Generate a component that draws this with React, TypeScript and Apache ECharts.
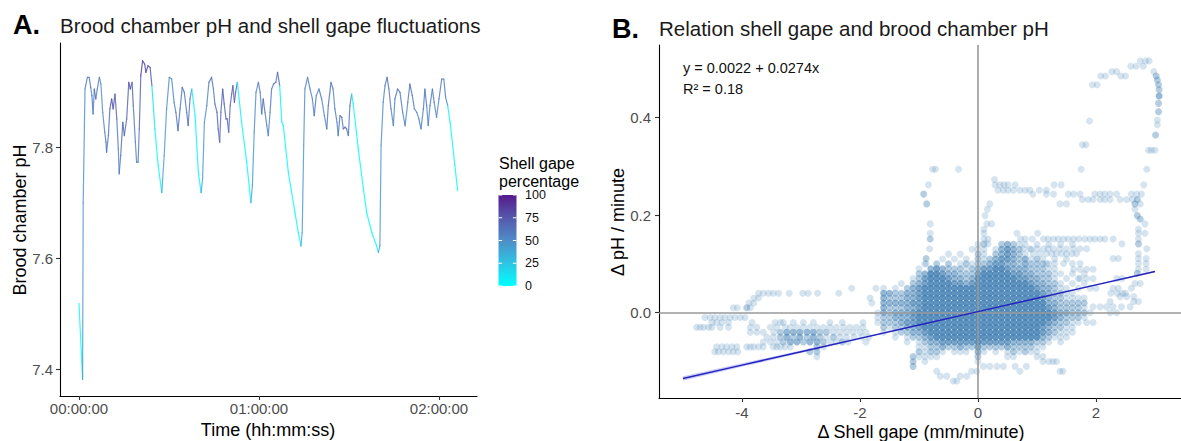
import React, { useEffect, useRef } from 'react';
import * as echarts from 'echarts';

const FONT = '"Liberation Sans", Arial, Helvetica, sans-serif';

// ---------- Panel A: brood chamber pH over time, coloured by shell gape % ----------
const timeMin = [
  0, 1.2, 1.4, 2.0, 2.8, 3.4, 3.9, 4.3, 4.7, 5.1,
  5.6, 6.1, 6.8, 7.3, 7.9, 8.6, 9.0, 9.2, 9.8, 10.3,
  10.9, 11.4, 12.0, 12.6, 13.1, 13.4, 13.9, 14.6, 15.1, 15.9,
  16.6, 17.1, 17.7, 18.1, 18.8, 19.2, 19.7, 20.1, 20.6, 21.2,
  21.9, 22.3, 23.0, 23.7, 24.3, 25.3, 26.4, 27.6, 28.4, 29.2,
  30.1, 30.9, 31.7, 32.3, 33.0, 33.7, 34.4, 35.1, 35.9, 36.4,
  37.0, 37.6, 38.7, 39.8, 40.7, 41.2, 41.8, 42.6, 43.3, 44.2,
  44.8, 45.3, 46.0, 46.4, 46.9, 47.3, 47.9, 48.4, 49.0, 49.4,
  49.9, 50.4, 50.9, 51.3, 51.8, 52.2, 52.8, 54.2, 55.9, 57.3,
  57.8, 58.4, 59.0, 59.8, 60.4, 60.9, 61.4, 62.0, 62.6, 63.1,
  63.7, 64.2, 64.9, 65.6, 66.2, 66.9, 67.6, 68.1, 69.8, 72.0,
  73.1, 74.0, 74.4, 74.9, 75.3, 76.2, 77.0, 77.8, 78.4, 79.1,
  80.0, 80.9, 81.8, 82.6, 83.1, 84.0, 84.7, 85.3, 86.0, 86.4,
  87.0, 87.6, 88.1, 88.7, 89.2, 89.8, 90.3, 90.9, 91.4, 93.1,
  94.8, 95.9, 97.6, 99.2, 99.8, 100.3, 100.7, 101.4, 102.0, 102.7,
  103.3, 104.0, 104.8, 105.3, 106.2, 107.0, 107.9, 108.7, 109.6, 110.3,
  111.1, 111.8, 112.6, 113.3, 114.0, 114.8, 115.3, 115.9, 116.4, 117.0,
  117.8, 118.4, 119.2, 120.0, 120.9, 121.6, 122.2, 122.9, 123.7, 125.3,
  126.2,
];
const broodPH = [
  7.519, 7.382, 7.701, 7.906, 7.927, 7.927, 7.909, 7.894, 7.861, 7.906,
  7.888, 7.906, 7.927, 7.915, 7.864, 7.828, 7.810, 7.792, 7.822, 7.870,
  7.888, 7.870, 7.897, 7.852, 7.798, 7.753, 7.786, 7.846, 7.822, 7.852,
  7.918, 7.906, 7.918, 7.876, 7.810, 7.774, 7.774, 7.834, 7.930, 7.957,
  7.951, 7.936, 7.948, 7.945, 7.912, 7.834, 7.768, 7.719, 7.786, 7.870,
  7.927, 7.924, 7.882, 7.864, 7.831, 7.870, 7.909, 7.900, 7.864, 7.840,
  7.888, 7.906, 7.858, 7.755, 7.719, 7.744, 7.846, 7.876, 7.918, 7.927,
  7.906, 7.879, 7.864, 7.834, 7.810, 7.864, 7.906, 7.879, 7.852, 7.852,
  7.828, 7.876, 7.897, 7.912, 7.882, 7.900, 7.918, 7.846, 7.774, 7.701,
  7.732, 7.828, 7.900, 7.918, 7.900, 7.861, 7.888, 7.864, 7.840, 7.822,
  7.864, 7.906, 7.915, 7.918, 7.936, 7.912, 7.846, 7.840, 7.755, 7.683,
  7.647, 7.623, 7.647, 7.804, 7.906, 7.927, 7.906, 7.888, 7.858, 7.894,
  7.906, 7.888, 7.858, 7.834, 7.876, 7.918, 7.906, 7.870, 7.846, 7.822,
  7.858, 7.855, 7.834, 7.837, 7.834, 7.822, 7.876, 7.897, 7.879, 7.798,
  7.726, 7.683, 7.647, 7.623, 7.611, 7.623, 7.804, 7.882, 7.912, 7.927,
  7.906, 7.870, 7.840, 7.888, 7.906, 7.900, 7.864, 7.840, 7.882, 7.915,
  7.894, 7.870, 7.864, 7.852, 7.834, 7.870, 7.906, 7.876, 7.840, 7.876,
  7.906, 7.882, 7.855, 7.888, 7.924, 7.924, 7.891, 7.876, 7.846, 7.768,
  7.723,
];
const gapePct = [
  2, 45, 50, 60, 55, 60, 55, 60, 55, 70,
  60, 60, 55, 50, 55, 60, 65, 60, 65, 75,
  80, 75, 70, 60, 55, 60, 65, 70, 65, 70,
  80, 75, 70, 60, 55, 60, 60, 70, 85, 85,
  80, 85, 80, 75, 10, 3, 2, 40, 45, 50,
  55, 55, 55, 60, 65, 60, 65, 60, 65, 60,
  55, 5, 3, 2, 40, 45, 50, 55, 60, 65,
  60, 65, 70, 70, 65, 70, 75, 70, 75, 70,
  65, 70, 75, 70, 75, 70, 5, 3, 2, 40,
  45, 50, 55, 60, 55, 60, 65, 60, 55, 55,
  60, 60, 65, 60, 70, 5, 3, 2, 2, 2,
  2, 40, 45, 50, 55, 60, 55, 55, 60, 55,
  60, 55, 55, 60, 65, 60, 55, 60, 55, 60,
  65, 60, 70, 70, 65, 60, 60, 5, 3, 2,
  2, 2, 2, 3, 40, 45, 50, 55, 60, 65,
  60, 55, 55, 60, 65, 60, 55, 55, 60, 65,
  60, 55, 55, 60, 55, 60, 60, 55, 55, 60,
  60, 55, 55, 60, 65, 60, 55, 5, 3, 2,
  2,
];
const timeTicks = [0, 60, 120];
const timeLabels = ['00:00:00', '01:00:00', '02:00:00'];
const phTicks = [7.4, 7.6, 7.8];
const gapeTicks = [0, 25, 50, 75, 100];
const gapeColors = ['#00FFFF', '#2EC4E4', '#4F8DC8', '#5558AC', '#551A8B'];

// ---------- Panel B: delta shell gape vs delta pH ----------
// core cloud: number of overlapping observations per cell, columns = coreX
const coreX = [
  -1.8, -1.7, -1.6, -1.5, -1.4, -1.3, -1.2, -1.1, -1.0, -0.9,
  -0.8, -0.7, -0.6, -0.5, -0.4, -0.3, -0.2, -0.1,
  0.0, 0.1, 0.2, 0.3, 0.4, 0.5, 0.6, 0.7, 0.8, 0.9,
  1.0, 1.1, 1.2, 1.3, 1.4, 1.5, 1.6, 1.7, 1.8, 1.9,
];
const coreRows: [number, string][] = [
  [0.14, '0000000000 00000000 1100232110 1010101000'],
  [0.13, '0000000000 00000001 1101343201 0000000000'],
  [0.12, '0000000000 00010100 2102343210 0000000000'],
  [0.11, '0000000000 00101010 2123443231 2101010000'],
  [0.10, '0000000001 02020121 2234433232 2210000000'],
  [0.09, '0000000010 34322212 3445543332 2211000000'],
  [0.08, '0000000023 55433222 4555554433 2221101010'],
  [0.07, '0000000124 55543323 5555555443 3221010100'],
  [0.06, '0000010234 55554434 5555555554 3322101010'],
  [0.05, '0010102345 55555555 5555555555 4332110100'],
  [0.04, '0033223345 55555555 5555555555 5432211000'],
  [0.03, '0032223345 55555555 5555555555 5432211110'],
  [0.02, '1033333445 55555555 5555555555 5533222220'],
  [0.01, '0032223345 55555555 5555555555 5543222210'],
  [0.0, '0132333455 55555555 5555555555 5554332221'],
  [-0.01, '0122333455 55555555 5555555555 5554322210'],
  [-0.02, '0122234455 55555555 5555555555 5543221100'],
  [-0.03, '0021223345 55555555 5555555555 5432211000'],
  [-0.04, '0010122334 55555555 5555555555 5432111000'],
  [-0.05, '0000101223 45555555 5555555555 5321110000'],
  [-0.06, '0000001012 33444444 5444443333 2210100000'],
  [-0.07, '0000000011 22322322 4222232222 1100000000'],
  [-0.08, '0000000021 22101110 3101012121 1000000000'],
  [-0.09, '0000000211 11000000 2000011000 1100000000'],
  [-0.10, '0000000201 00000000 1000000000 0110000000'],
];
type Row = [number, Array<number | [number, number]>];
const tailRows: Row[] = [
  [0.05, [-2.14, -1.73]],
  [0.04, [-3.72, -3.64, -3.55, -3.47, -3.38, -3.2, -2.97, -2.88, -2.72, -2.36]],
  [0.03, [-3.8, -3.72, -1.83]],
  [0.02, [-3.88, -3.8]],
  [0.01, [-4.15, -4.08, [-3.92, 2], -3.86]],
  [-0.01, [-4.63, -4.54, -4.46, -4.37, -4.29, -4.2, -4.12, -4.03, -3.95]],
  [-0.02, [-4.51, -4.43, -4.34, -4.23, -3.83, -3.44, -3.35, -3.3, -3.13, -2.96, -2.79, -2.51, -2.3, -1.95]],
  [-0.03, [-4.77, -4.71, -4.65, -4.57, -4.51, -4.37, -4.23, -3.86, -3.75, -3.52, -3.41, -3.27, -3.18, -3.07, -2.96, -2.85, -2.73, -2.62, -2.51, -2.4, -2.28, -2.17, -2.06, -1.95]],
  [-0.04, [-3.86, -3.75, -3.64, -3.46, [-3.35, 2], [-3.24, 3], [-3.13, 3], [-3.02, 3], [-2.9, 3], [-2.79, 3], [-2.68, 2], [-2.57, 2], -2.45, -2.34, -2.23, -2.12, -2.0, -1.9]],
  [-0.05, [-3.58, -3.47, [-3.35, 2], [-3.24, 3], [-3.13, 2], [-3.02, 3], [-2.9, 2], [-2.79, 3], [-2.68, 2], -2.57, [-2.45, 2], -2.34, -2.23, -2.1, -1.97, -1.85]],
  [-0.06, [-3.64, -3.52, -3.41, [-3.3, 2], [-3.18, 3], [-3.07, 3], [-2.96, 2], [-2.85, 3], [-2.73, 3], [-2.62, 2], -2.5, -2.4, [-2.3, 2], -2.2, -1.9]],
  [-0.07, [-4.43, -4.34, -4.26, -4.17, -4.09, -3.92, -3.86, -3.8, -3.72, -3.64, -3.47, -3.41, -3.35, -3.27, -3.18, [-2.73, 2], -2.62]],
  [-0.08, [-4.46, -4.4, -4.32, -4.23, -4.15, -4.07, [-2.85, 2], [-2.73, 2]]],
  [-0.09, [-2.73]],
];
const loopRows: Row[] = [
  [0.516, [2.75, 2.84, 2.9]],
  [0.505, [2.59, 2.68, 2.8]],
  [0.494, [2.27, 2.35, 2.98]],
  [0.485, [2.08, 2.16, 2.42, 2.5, [3.02, 2]]],
  [0.477, [[3.04, 2]]],
  [0.467, [1.94, 2.02, [3.06, 2]]],
  [0.457, [[3.07, 2]]],
  [0.444, [[3.07, 3]]],
  [0.429, [[3.06, 2]]],
  [0.412, [[3.06, 2]]],
  [0.395, [3.04]],
  [0.393, [1.89]],
  [0.385, [3.04]],
  [0.364, [[3.01, 2]]],
  [0.344, [1.77, 1.83]],
  [0.333, [2.89, 2.94, 3.0]],
  [0.294, [-0.77, -0.72, -0.33, 1.75, 2.86]],
  [0.273, [0.28]],
  [0.262, [-0.84, 0.29, 0.37, 0.44, 0.51, 0.63, 1.29, 1.41, 2.81]],
  [0.251, [0.34, 0.43, 0.51, 0.6, 0.71, 0.8, 0.88, 1.04, 1.16]],
  [0.243, [[-0.92, 2], 0.93, 1.16, 1.28, 1.53, 1.62, 1.73, 1.98, 2.07, 2.15, 2.24, 2.35, 2.6, 2.69, 2.77]],
  [0.232, [1.77, 1.87, 1.95, 2.07, 2.15, 2.24, 2.41, 2.52, 2.62, [2.7, 2]]],
  [0.223, [[-0.87, 2], 0.2, 1.39, 1.5, [2.66, 2], 2.75]],
  [0.212, [0.16, 2.66]],
  [0.199, [0.12, [2.7, 2]]],
  [0.192, [[2.75, 2]]],
  [0.182, [-0.81, 0.15, 0.23, 2.83]],
  [0.171, [0.1, 2.72]],
  [0.163, [-0.81, 0.1, 0.66, 1.01, 2.72, 2.83]],
  [0.151, [[-0.81, 2], 0.1, 0.17, 0.72, 0.8, 0.92, 1.11, 1.19, 1.28, 1.36, 1.45, 1.53, 1.62, 1.71, 1.81, 1.9, 1.98, 2.07, 2.15, 2.29, 2.72]],
  [0.141, [0.1, 0.17, 2.44, [2.72, 2]]],
  [0.131, [-0.82, 0.77, 0.88, 1.0, 1.11, 1.19, 1.28, 1.39, 1.5, 1.62, 1.73, 1.84, 2.86]],
  [0.121, [0.94, 1.05, 1.16, 1.25, 1.33, 1.42, 1.5, 1.59, 1.67, 2.72]],
  [0.111, [[-0.88, 2], 2.29, 2.38, 2.72, 2.85]],
  [0.101, [-0.88, 1.16, 1.3, 1.45, 1.6, 1.73, 2.72, 2.85]],
  [0.089, [1.62, 1.73, 1.84, 1.95, 2.72, 2.85]],
  [0.081, [[2.7, 2]]],
  [0.07, [1.73, 1.84, 1.95, 2.35, 2.44]],
  [0.06, [2.66, 2.75]],
  [0.05, [1.9, 2.0, 2.29, 2.38, 2.6]],
  [0.04, [2.25, 2.36, 2.45, 2.5]],
  [0.033, [2.41, 2.52, 2.64]],
  [0.023, [2.24, 2.64, 2.72]],
  [0.012, [1.95, 2.07, 2.18, 2.29, 2.43, 2.58]],
  [0.0, [2.24, 2.35]],
  [-0.02, [1.84, 1.95]],
];
const dipRows: Row[] = [
  [-0.10, [1.27, 1.33]],
  [-0.11, [[-1.1, 2], 0.09, 0.2, 0.32, 0.43, 0.63, 0.82]],
  [-0.12, [-0.7, -0.11, -0.02, 0.71, 1.39, 1.44]],
  [-0.13, [-0.64, -0.53, -0.3, -0.19]],
  [-0.14, [-0.42, -0.36]],
];
const fitX = [-5, -4, -3, -2, -1, 0, 1, 2, 3];
const fitY = [-0.1348, -0.1074, -0.08, -0.0526, -0.0252, 0.0022, 0.0296, 0.057, 0.0844];
const fitSE = [0.0045, 0.0036, 0.0027, 0.0018, 0.0011, 0.0007, 0.0009, 0.0013, 0.0019];
const shellTicks = [-4, -2, 0, 2];
const dphTicks = [0, 0.2, 0.4];
const countOpacity = [0.22, 0.4, 0.56, 0.72, 0.86];

function buildScatterGroups(): number[][][] {
  const groups: number[][][] = [[], [], [], [], []];
  const add = (x: number, y: number, n: number) => {
    const k = Math.min(n, 5) - 1;
    if (k >= 0) groups[k].push([x, y]);
  };
  coreRows.forEach(([y, s]) => {
    const d = s.replace(/\s/g, '');
    for (let i = 0; i < d.length && i < coreX.length; i++) add(coreX[i], y, Number(d[i]));
  });
  [tailRows, loopRows, dipRows].forEach((rows) =>
    rows.forEach(([y, xs]) =>
      xs.forEach((e) => (Array.isArray(e) ? add(e[0], y, e[1]) : add(e, y, 1)))
    )
  );
  return groups;
}

export default function App() {
  const ref = useRef<HTMLDivElement>(null);
  useEffect(() => {
    if (!ref.current) return;
    const chart = echarts.init(ref.current, undefined, { renderer: 'svg' });

    const segData = timeMin.slice(0, -1).map((t, i) => [t, broodPH[i], gapePct[i], timeMin[i + 1], broodPH[i + 1]]);
    const groups = buildScatterGroups();

    const axisLine = { show: true, onZero: false, lineStyle: { color: '#000', width: 1.1 } };
    const tickStyle = { color: '#333', width: 1.1 };
    const lbl = { color: '#4d4d4d', fontSize: 15, fontFamily: FONT };

    const barTop = 195, barH = 91, barX = 498.5, barW = 18;
    const gy = (v: number) => barTop + barH - (v / 100) * barH;
    const stops = gapeColors.map((c, i) => ({ offset: i / (gapeColors.length - 1), color: c }));

    const graphic: any[] = [
      { type: 'text', x: 13, y: 24.5, style: { text: 'A.', fontSize: 27, fontWeight: 'bold', fontFamily: FONT, fill: '#000', verticalAlign: 'middle' } },
      { type: 'text', x: 60, y: 25.5, style: { text: 'Brood chamber pH and shell gape fluctuations', fontSize: 20.5, fontFamily: FONT, fill: '#1a1a1a', verticalAlign: 'middle' } },
      { type: 'text', x: 612, y: 28.5, style: { text: 'B.', fontSize: 27, fontWeight: 'bold', fontFamily: FONT, fill: '#000', verticalAlign: 'middle' } },
      { type: 'text', x: 659, y: 28, style: { text: 'Relation shell gape and brood chamber pH', fontSize: 20.5, fontFamily: FONT, fill: '#1a1a1a', verticalAlign: 'middle' } },
      { type: 'text', x: 20, y: 220, rotation: Math.PI / 2, style: { text: 'Brood chamber pH', fontSize: 18, fontFamily: FONT, fill: '#000', align: 'center', verticalAlign: 'middle' } },
      { type: 'text', x: 268, y: 430, style: { text: 'Time (hh:mm:ss)', fontSize: 18, fontFamily: FONT, fill: '#000', align: 'center', verticalAlign: 'middle' } },
      { type: 'text', x: 618, y: 222, rotation: Math.PI / 2, style: { text: 'Δ pH / minute', fontSize: 18, fontFamily: FONT, fill: '#000', align: 'center', verticalAlign: 'middle' } },
      { type: 'text', x: 921, y: 432, style: { text: 'Δ Shell gape (mm/minute)', fontSize: 18, fontFamily: FONT, fill: '#000', align: 'center', verticalAlign: 'middle' } },
      { type: 'text', x: 683, y: 67.5, style: { text: 'y = 0.0022 + 0.0274x', fontSize: 14.5, fontFamily: FONT, fill: '#111', verticalAlign: 'middle' } },
      { type: 'text', x: 683, y: 88.5, style: { text: 'R² = 0.18', fontSize: 14.5, fontFamily: FONT, fill: '#111', verticalAlign: 'middle' } },
      { type: 'text', x: 499, y: 163, style: { text: 'Shell gape', fontSize: 16, fontFamily: FONT, fill: '#000', verticalAlign: 'middle' } },
      { type: 'text', x: 499, y: 181, style: { text: 'percentage', fontSize: 16, fontFamily: FONT, fill: '#000', verticalAlign: 'middle' } },
      { type: 'rect', shape: { x: barX, y: barTop, width: barW, height: barH }, style: { fill: new echarts.graphic.LinearGradient(0, 1, 0, 0, stops) } },
    ];
    gapeTicks.forEach((v) => {
      const y = gy(v);
      graphic.push({ type: 'line', shape: { x1: barX, y1: y, x2: barX + 3.6, y2: y }, style: { stroke: '#fff', lineWidth: 1 } });
      graphic.push({ type: 'line', shape: { x1: barX + barW - 3.6, y1: y, x2: barX + barW, y2: y }, style: { stroke: '#fff', lineWidth: 1 } });
      graphic.push({ type: 'text', x: 525, y, style: { text: String(v), fontSize: 12.5, fontFamily: FONT, fill: '#111', verticalAlign: 'middle' } });
    });

    const scatterSeries = groups.map((pts, k) => ({
      type: 'scatter',
      xAxisIndex: 1,
      yAxisIndex: 1,
      data: pts,
      symbol: 'circle',
      symbolSize: 7,
      silent: true,
      z: 2,
      itemStyle: { color: '#4682B4', opacity: countOpacity[k] },
    }));

    chart.setOption({
      animation: false,
      textStyle: { fontFamily: FONT },
      graphic,
      grid: [
        { left: 60, top: 43, width: 417, height: 353 },
        { left: 659, top: 45, width: 522, height: 353 },
      ],
      xAxis: [
        {
          gridIndex: 0, type: 'value', min: -6.33, max: 132.67,
          axisLine, splitLine: { show: false },
          axisTick: { show: true, length: 4, customValues: timeTicks, lineStyle: tickStyle },
          axisLabel: { ...lbl, margin: 5, customValues: timeTicks, formatter: (v: number) => timeLabels[timeTicks.indexOf(v)] ?? '' },
        },
        {
          gridIndex: 1, type: 'value', min: -5.407, max: 3.441,
          axisLine, splitLine: { show: false },
          axisTick: { show: true, length: 4, customValues: shellTicks, lineStyle: tickStyle },
          axisLabel: { ...lbl, margin: 7, customValues: shellTicks, formatter: (v: number) => String(v) },
        },
      ],
      yAxis: [
        {
          gridIndex: 0, type: 'value', min: 7.352, max: 7.989,
          axisLine, splitLine: { show: false },
          axisTick: { show: true, length: 4, customValues: phTicks, lineStyle: tickStyle },
          axisLabel: { ...lbl, margin: 7, customValues: phTicks, formatter: (v: number) => v.toFixed(1) },
        },
        {
          gridIndex: 1, type: 'value', min: -0.1748, max: 0.5486,
          axisLine, splitLine: { show: false },
          axisTick: { show: true, length: 4, customValues: dphTicks, lineStyle: tickStyle },
          axisLabel: { ...lbl, margin: 8, customValues: dphTicks, formatter: (v: number) => v.toFixed(1) },
        },
      ],
      visualMap: [
        { type: 'continuous', show: false, seriesIndex: 0, dimension: 2, min: 0, max: 100, inRange: { color: gapeColors } },
      ],
      series: [
        {
          type: 'custom',
          xAxisIndex: 0,
          yAxisIndex: 0,
          data: segData,
          encode: { x: 0, y: 1 },
          silent: true,
          z: 2,
          renderItem: (params: any, api: any) => {
            const a = api.coord([api.value(0), api.value(1)]);
            const b = api.coord([api.value(3), api.value(4)]);
            return {
              type: 'line',
              shape: { x1: a[0], y1: a[1], x2: b[0], y2: b[1] },
              style: { stroke: api.visual('color'), lineWidth: 1.2, lineCap: 'round', opacity: 0.82 },
            };
          },
        },
        ...scatterSeries,
        {
          type: 'line',
          xAxisIndex: 1,
          yAxisIndex: 1,
          data: [[0, 0]],
          showSymbol: false,
          symbol: 'none',
          silent: true,
          z: 3,
          lineStyle: { width: 0 },
          markLine: {
            silent: true,
            symbol: 'none',
            label: { show: false },
            lineStyle: { color: '#999999', width: 1.6, type: 'solid' },
            data: [{ xAxis: 0 }, { yAxis: 0 }],
          },
        },
        {
          type: 'custom',
          xAxisIndex: 1,
          yAxisIndex: 1,
          data: [[fitX[0], fitY[0]]],
          encode: { x: 0, y: 1 },
          silent: true,
          z: 4,
          renderItem: (params: any, api: any) => {
            const upper = fitX.map((x, i) => api.coord([x, fitY[i] + fitSE[i]]));
            const lower = fitX.map((x, i) => api.coord([x, fitY[i] - fitSE[i]])).reverse();
            return { type: 'polygon', shape: { points: upper.concat(lower) }, style: { fill: 'rgba(95,95,235,0.32)' } };
          },
        },
        {
          type: 'line',
          xAxisIndex: 1,
          yAxisIndex: 1,
          data: fitX.map((x, i) => [x, fitY[i]]),
          showSymbol: false,
          symbol: 'none',
          silent: true,
          z: 5,
          lineStyle: { color: '#2323be', width: 1.5 },
        },
      ],
    });
    return () => chart.dispose();
  }, []);
  return <div ref={ref} style={{ position: 'absolute', left: 0, top: 0, width: 1181, height: 441 }} />;
}
